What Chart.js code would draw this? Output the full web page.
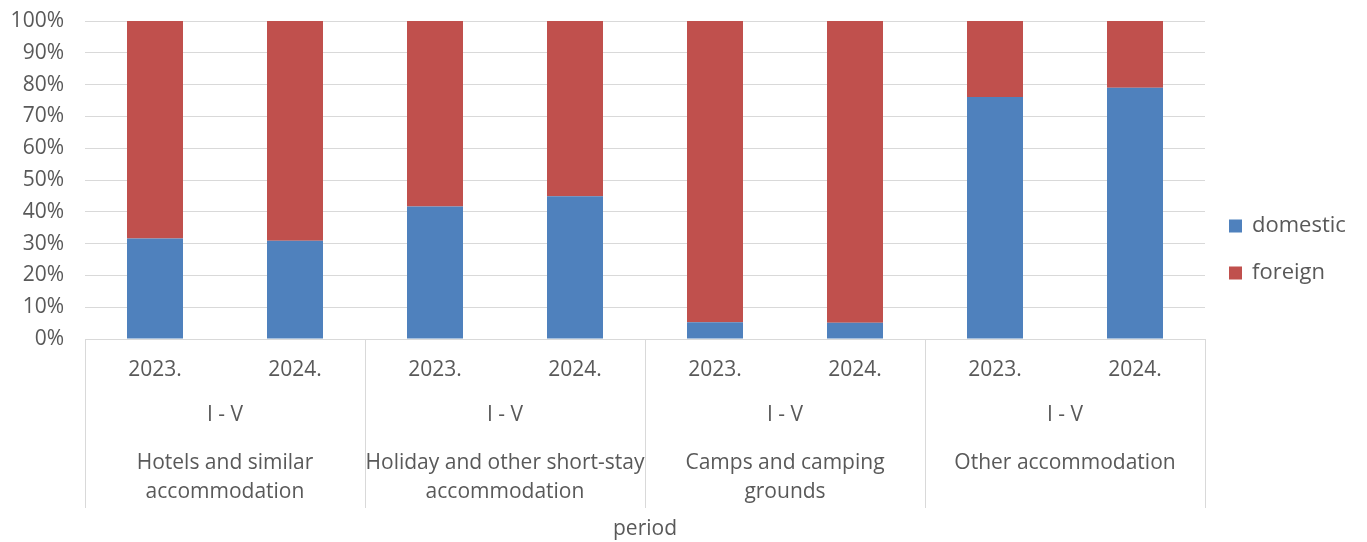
<!DOCTYPE html>
<html>
<head>
<meta charset="utf-8">
<script src="https://cdn.jsdelivr.net/npm/chart.js@4.4.1/dist/chart.umd.min.js"></script>
<style>
  html, body { margin: 0; padding: 0; background: #fff; }
  #wrap { width: 1367px; height: 542px; }
</style>
</head>
<body>
<div id="wrap"><canvas id="chart"></canvas></div>
<script>
const years = ['2023.', '2024.', '2023.', '2024.', '2023.', '2024.', '2023.', '2024.'];
const periods = ['I - V', 'I - V', 'I - V', 'I - V'];
const groups = [
  ['Hotels and similar', 'accommodation'],
  ['Holiday and other short-stay', 'accommodation'],
  ['Camps and camping', 'grounds'],
  ['Other accommodation']
];
const domestic = [31.6, 30.9, 41.7, 44.9, 5.3, 5.1, 76.1, 79.0];
const foreign = [68.4, 69.1, 58.3, 55.1, 94.7, 94.9, 23.9, 21.0];

const FONT = "'Open Sans', sans-serif";
const SIZE = 21;
const TEXT = '#595959';
const GRID = '#d9d9d9';

// draws the lower category rows, separators and the legend
const extras = {
  id: 'extras',
  afterDraw(chart) {
    const ctx = chart.ctx;
    const x = chart.scales.x;
    const area = chart.chartArea;
    const per = years.length / groups.length;
    ctx.save();

    // group separators
    ctx.strokeStyle = GRID;
    ctx.lineWidth = 1;
    for (let g = 0; g <= groups.length; g++) {
      let px;
      if (g === 0) px = area.left;
      else if (g === groups.length) px = area.right;
      else px = (x.getPixelForValue(g * per - 1) + x.getPixelForValue(g * per)) / 2;
      px = Math.round(px) + 0.5;
      ctx.beginPath();
      ctx.moveTo(px, area.bottom);
      ctx.lineTo(px, 508);
      ctx.stroke();
    }

    ctx.fillStyle = TEXT;
    ctx.font = SIZE + 'px ' + FONT;
    ctx.textAlign = 'center';
    ctx.textBaseline = 'middle';
    groups.forEach((lines, g) => {
      const cx = (x.getPixelForValue(g * per) + x.getPixelForValue(g * per + per - 1)) / 2;
      ctx.fillText(periods[g], cx, 415);
      lines.forEach((t, i) => ctx.fillText(t, cx, 463 + i * 29));
    });

    // legend
    ctx.textAlign = 'left';
    ctx.font = '22px ' + FONT;
    chart.data.datasets.forEach((ds, i) => {
      const y = 226 + i * 47;
      ctx.fillStyle = ds.backgroundColor;
      ctx.fillRect(1229, y - 6.5, 13, 13);
      ctx.fillStyle = TEXT;
      ctx.fillText(ds.label, 1252, y);
    });
    ctx.restore();
  }
};

new Chart(document.getElementById('chart'), {
  type: 'bar',
  data: {
    labels: years,
    datasets: [
      { label: 'domestic', data: domestic, backgroundColor: '#4f81bd', barPercentage: 0.4, categoryPercentage: 1 },
      { label: 'foreign', data: foreign, backgroundColor: '#c0504d', barPercentage: 0.4, categoryPercentage: 1 }
    ]
  },
  options: {
    responsive: true,
    maintainAspectRatio: false,
    animation: false,
    layout: { padding: { top: 21, right: 162, bottom: 0, left: 0 } },
    plugins: { legend: { display: false }, tooltip: { enabled: false } },
    scales: {
      x: {
        stacked: true,
        grid: { display: false, drawTicks: false },
        border: { display: false },
        ticks: { color: TEXT, font: { family: FONT, size: SIZE }, padding: 18, maxRotation: 0, autoSkip: false },
        title: { display: true, text: 'period', color: TEXT, font: { family: FONT, size: SIZE }, padding: { top: 0, bottom: 0 } },
        afterFit(scale) { scale.height = 203; }
      },
      y: {
        stacked: true,
        min: 0,
        max: 100,
        grid: { color: GRID, drawTicks: false },
        border: { display: false },
        ticks: { stepSize: 10, color: TEXT, font: { family: FONT, size: SIZE }, padding: 21, callback: v => v + '%' },
        afterFit(scale) {
          scale.width = 85;
          scale.paddingTop = 0;
          scale.paddingBottom = 0;
        }
      }
    }
  },
  plugins: [extras]
});
</script>
</body>
</html>
